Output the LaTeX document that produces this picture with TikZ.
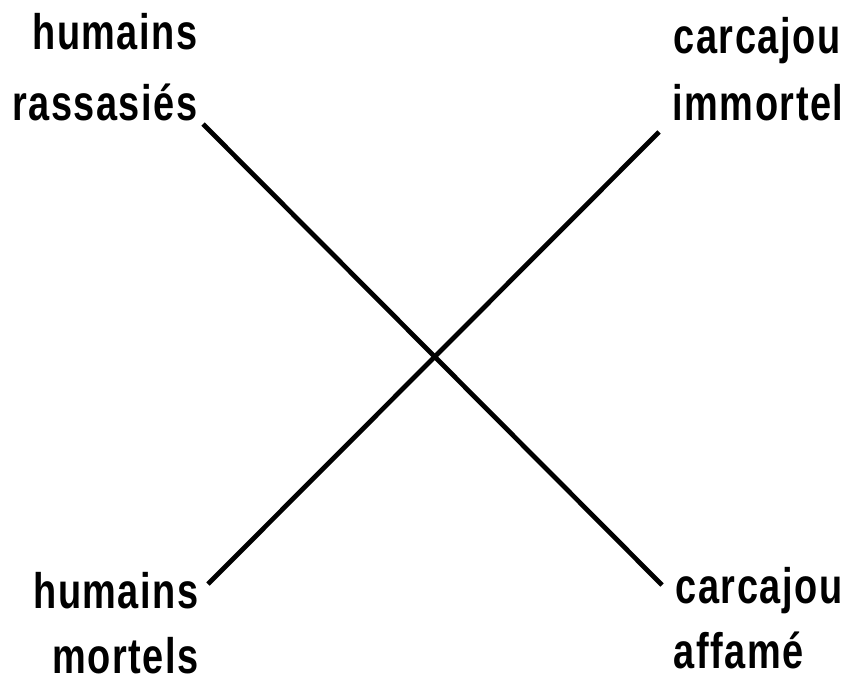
\documentclass[tikz,border=0pt]{standalone}
\usepackage{fontspec}
\setmainfont{Liberation Sans}[FakeStretch=0.76,LetterSpace=3]
\begin{document}
\begin{tikzpicture}[
  lbl/.style={inner sep=0pt, font=\bfseries\fontsize{14.2pt}{17pt}\selectfont},
  link/.style={line width=1.35pt, black}
]
\useasboundingbox (0,0) rectangle (8.49,6.83);
% labels
\node[lbl, anchor=base east] (hr1) at (1.98,6.34) {humains};
\node[lbl, anchor=base east] (hr2) at (1.98,5.63) {rassasiés};
\node[lbl, anchor=base west] (ci1) at (6.73,6.30) {carcajou};
\node[lbl, anchor=base west] (ci2) at (6.72,5.63) {immortel};
\node[lbl, anchor=base east] (hm1) at (1.99,0.75) {humains};
\node[lbl, anchor=base east] (hm2) at (1.99,0.10) {mortels};
\node[lbl, anchor=base west] (ca1) at (6.75,0.80) {carcajou};
\node[lbl, anchor=base west] (ca2) at (6.73,0.15) {affamé};
% line ends
\coordinate (p1) at (2.03,5.59);
\coordinate (p2) at (6.62,0.98);
\coordinate (q1) at (2.08,0.99);
\coordinate (q2) at (6.59,5.51);
\draw[link] (p1) -- (p2);
\draw[link] (q1) -- (q2);
\end{tikzpicture}
\end{document}
